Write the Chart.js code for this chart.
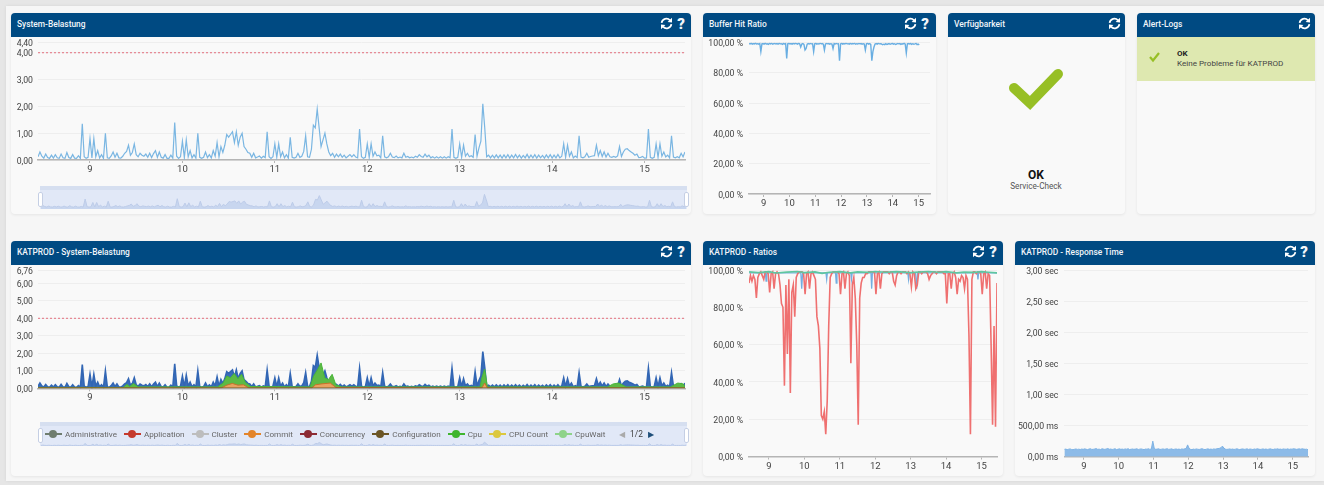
<!DOCTYPE html>
<html lang="de">
<head>
<meta charset="utf-8">
<title>KATPROD Dashboard</title>
<script src="https://cdn.jsdelivr.net/npm/chart.js@4"></script>
<style>
  html, body { margin: 0; padding: 0; }
  body { width: 1324px; height: 485px; overflow: hidden; position: relative; background: #e6e6e6; font-family: Roboto, sans-serif; }
  .page { position: absolute; left: 6px; top: 6px; width: 1318px; height: 475px; background: #f6f6f6; box-shadow: 0 0 3px rgba(0,0,0,.08); }
  .panel { position: absolute; background: #f9f9f9; border-radius: 4px; box-shadow: 0 1px 3px rgba(0,0,0,.07); }
  .head { position: absolute; left: 0; right: 0; top: 0; height: 24px; background: #004a82; border-radius: 4px 4px 0 0; color: #f2f6fa; font-size: 8.4px; font-weight: 500; line-height: 22px; padding-left: 6px; }
  .ico { position: absolute; top: 4px; width: 13px; height: 13px; }
  .qm { position: absolute; top: 0; width: 12px; text-align: center; font-size: 15px; line-height: 22px; font-weight: 900; }
  canvas { position: absolute; display: block; }
  .nav { position: absolute; background: #e1e8f7; border-top: 4px solid #d6dff0; box-sizing: border-box; }
  .grip { position: absolute; width: 3px; height: 13px; background: #fff; border: 1px solid #c5cfe4; border-radius: 2px; }
  .legend { position: absolute; left: 45px; top: 428px; height: 12px; display: flex; gap: 7px; align-items: center; font-size: 8.1px; color: #666; white-space: nowrap; }
  .legend i { display: inline-block; position: relative; width: 17px; height: 1.5px; margin-right: 3px; vertical-align: middle; }
  .legend i b { position: absolute; left: 4px; top: -3px; width: 8px; height: 8px; border-radius: 50%; background: inherit; }
  .legend span { display: flex; align-items: center; }
  .pager { position: absolute; left: 619px; top: 428px; height: 12px; font-size: 8.4px; line-height: 12px; color: #444; display: flex; gap: 5px; align-items: center; }
  .txt { position: absolute; white-space: nowrap; }
</style>
</head>
<body>
<div class="page"></div>

<svg width="0" height="0" style="position:absolute">
  <symbol id="refresh" viewBox="0 0 13 13">
    <path d="M1.6 5.8A4.8 4.8 0 0 1 10 3.4" fill="none" stroke="#fff" stroke-width="1.7"/>
    <polygon points="12,0.8 12,5.4 7.6,5" fill="#fff"/>
    <path d="M11.4 7.2A4.8 4.8 0 0 1 3 9.6" fill="none" stroke="#fff" stroke-width="1.7"/>
    <polygon points="1,12.2 1,7.6 5.4,8" fill="#fff"/>
  </symbol>
</svg>

<div class="panel" style="left:11px;top:13px;width:680px;height:201px">
  <div class="head">System-Belastung<svg class="ico" style="left:649px"><use href="#refresh"/></svg><span class="qm" style="left:664px">?</span></div>
</div>
<div class="panel" style="left:703px;top:13px;width:233px;height:201px">
  <div class="head">Buffer Hit Ratio<svg class="ico" style="left:201px"><use href="#refresh"/></svg><span class="qm" style="left:216px">?</span></div>
</div>
<div class="panel" style="left:948px;top:13px;width:177px;height:201px">
  <div class="head">Verfügbarkeit<svg class="ico" style="left:160px"><use href="#refresh"/></svg></div>
</div>
<div class="panel" style="left:1137px;top:13px;width:178px;height:201px">
  <div class="head">Alert-Logs<svg class="ico" style="left:161px"><use href="#refresh"/></svg></div>
  <div style="position:absolute;left:0;right:0;top:24px;height:44px;background:#dee8b0"></div>
</div>
<div class="panel" style="left:11px;top:241px;width:680px;height:235px">
  <div class="head">KATPROD - System-Belastung<svg class="ico" style="left:649px"><use href="#refresh"/></svg><span class="qm" style="left:664px">?</span></div>
</div>
<div class="panel" style="left:703px;top:241px;width:300px;height:235px">
  <div class="head">KATPROD - Ratios<svg class="ico" style="left:269px"><use href="#refresh"/></svg><span class="qm" style="left:284px">?</span></div>
</div>
<div class="panel" style="left:1015px;top:241px;width:300px;height:235px">
  <div class="head">KATPROD - Response Time<svg class="ico" style="left:269px"><use href="#refresh"/></svg><span class="qm" style="left:283px">?</span></div>
</div>

<svg style="position:absolute;left:0;top:0" width="1324" height="485">
  <polyline points="1014,88 1030,103 1058,74" fill="none" stroke="#97bf25" stroke-width="10" stroke-linecap="round"/>
  <polyline points="1150,57 1153,60.5 1159,53" fill="none" stroke="#97bf25" stroke-width="2.2"/>
</svg>
<div class="txt" style="left:1006px;width:60px;text-align:center;top:168px;font-size:12px;font-weight:700;color:#111">OK</div>
<div class="txt" style="left:996px;width:80px;text-align:center;top:181px;font-size:8.2px;color:#555">Service-Check</div>
<div class="txt" style="left:1177px;top:49px;font-size:8px;font-weight:700;color:#222">OK</div>
<div class="txt" style="left:1177px;top:58px;font-size:8.1px;color:#444">Keine Probleme für KATPROD</div>

<div class="nav" style="left:40px;top:186px;width:647px;height:23px"></div>
<div class="nav" style="left:40px;top:422px;width:647px;height:24px"></div>

<canvas id="sysChart"></canvas>
<canvas id="sysNav"></canvas>
<canvas id="bufferChart"></canvas>
<canvas id="katChart"></canvas>
<canvas id="katNav"></canvas>
<canvas id="ratioChart"></canvas>
<canvas id="respChart"></canvas>

<div class="grip" style="left:38px;top:192px"></div>
<div class="grip" style="left:684px;top:192px"></div>
<div class="grip" style="left:38px;top:428px"></div>
<div class="grip" style="left:684px;top:428px"></div>
<div class="legend" id="legend"></div>
<div class="pager"><span style="color:#aaa">&#9664;</span><span>1/2</span><span style="color:#1f4f7a">&#9654;</span></div>

<script>
const startDay = 8.4375;
const endDay = 15.4375;
const dayTicks = [9, 10, 11, 12, 13, 14, 15];

// tick labels of the value axes
const sysTicks = [0, 1, 2, 3, 4, 4.4];
const katTicks = [0, 1, 2, 3, 4, 5, 6, 6.76];
const pctTicks = [0, 20, 40, 60, 80, 100];
const respTicks = [0, 500, 1000, 1500, 2000, 2500, 3000];
const limitLoad = 4;

// load, one reading every 30 minutes
const sysLoad = [
  .12,.30,.14,.07,.22,.09,.06,.18,.07,.20,.08,.06,.22,.08,.06,.28,.09,.06,.20,.07,.06,.16,.06,1.35,.12,.06,.10,.80,.08,.80,
  .12,.35,.08,.20,.06,1.00,.08,.06,.15,.30,.10,.25,.08,.07,.14,.25,.32,.55,.18,.28,.60,.20,.12,.25,.18,.14,.22,.10,.25,.09,
  .24,.35,.10,.30,.10,.07,.20,.06,.06,.18,.07,1.40,.14,.06,.12,.70,.09,.75,.12,.35,.08,.20,.07,1.00,.10,.06,.10,.30,.09,.20,
  .08,.35,.14,.65,.12,.50,.28,.55,.95,.85,.95,1.05,.65,1.05,.55,.85,1.00,.50,.40,.28,.25,.10,.25,.08,.11,.15,.07,.14,.09,1.05,
  .12,.06,.12,.60,.10,.60,.12,.30,.08,.20,.07,.85,.10,.07,.10,.25,.10,.14,.32,.90,.12,.10,.40,1.30,1.20,1.90,1.20,.50,.75,1.00,
  .60,.30,.16,.25,.10,.22,.12,.22,.10,.18,.08,.14,.20,.12,.20,.11,.08,1.15,.12,.06,.10,.60,.10,.60,.14,.30,.16,.18,.08,.90,
  .12,.08,.12,.25,.11,.09,.15,.08,.11,.08,.25,.10,.13,.08,.11,.08,.14,.10,.20,.13,.10,.22,.12,.18,.08,.12,.07,.12,.07,.12,
  .07,.12,.07,.12,.08,1.15,.10,.06,.10,.60,.10,.55,.14,.25,.12,.16,.10,.95,.14,.45,.70,2.10,1.20,.12,.18,.08,.18,.08,.19,.08,
  .18,.07,.19,.08,.20,.07,.18,.08,.21,.08,.18,.07,.17,.08,.21,.07,.18,.08,.20,.07,.18,.08,.17,.07,.19,.08,.20,.07,.18,.08,
  .21,.08,.14,.60,.10,.55,.14,.30,.08,.15,.09,.90,.11,.08,.12,.25,.10,.13,.15,.16,.55,.16,.35,.13,.30,.11,.25,.12,.10,.13,
  .10,.15,.50,.13,.30,.40,.42,.35,.30,.25,.18,.22,.09,.10,.13,.07,.08,1.15,.10,.06,.10,.60,.10,.60,.14,.30,.11,.18,.08,.90,
  .11,.08,.12,.08,.25,.12,.30,.40,.70,.28,.50,.22,.08
];

// top edge of the Cpu band and the Commit band, read at the visible bends
const cpuDays = [8.44,9.36,9.40,9.43,9.47,9.52,10.38,10.44,10.48,10.52,10.56,10.60,10.64,10.68,10.74,11.38,11.42,11.46,11.50,11.54,11.58,11.62,11.66,11.72,13.22,13.24,13.27,13.30,14.60,14.66,14.72,14.80,15.28,15.36,15.42,15.44];
const cpuTop = [.05,.05,.22,.10,.28,.08,.08,.30,.70,.60,.85,.55,.80,.35,.10,.08,.70,1.05,1.45,.60,.50,.80,.20,.08,.08,.60,1.10,.08,.08,.25,.30,.08,.08,.30,.25,.05];
const commitDays = [8.44,10.42,10.48,10.54,10.60,10.66,10.72,11.40,11.44,11.50,11.60,11.66,13.24,13.27,13.30,15.44];
const commitTop = [.02,.02,.18,.28,.18,.20,.02,.02,.20,.25,.30,.05,.02,.30,.02,.02];
const configDays = [8.44,15.44];
const configTop = [.015,.015];

// buffer hit ratio in percent, one reading per hour
const bufferHit = [
  99.4,99.0,99.5,98.9,99.3,99.1,99.6,99.0,99.2,98.9,99.4,94.0,99.1,99.3,98.9,99.5,99.0,99.2,98.8,99.4,
  99.1,99.5,98.9,99.2,99.4,99.0,99.3,98.9,99.5,99.1,99.2,98.8,99.4,99.0,99.3,89.5,99.2,99.5,99.0,99.3,
  98.9,99.4,99.1,99.5,99.2,98.9,99.4,99.1,97.0,99.0,99.3,98.8,95.0,96.0,98.9,99.3,99.0,99.4,99.1,99.2,
  94.0,99.1,99.4,98.9,99.2,99.0,99.5,99.1,99.3,98.9,95.0,99.0,99.4,99.1,99.3,98.9,99.2,99.0,96.0,99.3,
  99.0,99.4,99.1,99.2,88.0,99.1,99.4,98.9,99.3,99.0,99.5,99.1,99.2,98.9,99.4,99.0,99.3,99.1,99.5,98.9,
  99.2,99.0,99.4,99.1,99.3,98.9,99.2,99.0,95.0,99.1,99.4,98.9,99.3,98.8,88.0,94.0,97.0,99.0,99.3,98.9,
  99.4,99.1,99.2,99.0,98.5,98.9,98.6,99.2,98.7,99.0,99.3,98.8,99.1,99.4,98.9,99.2,98.7,99.0,99.4,99.1,
  99.3,98.8,99.2,99.0,99.5,98.9,93.0,99.1,99.3,99.0,99.4,98.8,99.2,98.9,99.1,99.4,98.6,99.0,98.4
];

// ratios in percent: hourly red series, the other two read at visible bends
const ratioRed = [
  93,97,94,97,95,85,96,98,99,97,
  95,99,99,98,88,98,99,90,98,99,
  98,92,82,80,38,92,55,95,34,88,
  92,75,96,98,99,99,99,98,87,98,
  99,90,98,99,97,95,75,70,58,22,
  20,24,12,30,70,96,98,99,99,99,
  99,98,87,98,99,90,98,99,97,50,
  92,96,85,60,17,85,93,96,96,98,
  98,99,99,99,99,99,87,98,99,90,
  98,99,99,99,99,98,99,99,94,92,
  97,99,99,98,99,99,99,98,99,98,
  91,99,98,90,92,99,99,98,99,99,
  99,98,95,97,98,99,99,98,99,99,
  99,99,98,98,82,98,98,90,98,99,
  96,87,95,94,97,96,90,97,95,65,
  12,95,99,99,98,99,99,98,87,98,
  99,90,98,97,60,17,70,16,93
];
const ratioBlueDays = [8.44,8.90,8.92,8.94,9.90,9.925,9.95,10.61,10.63,10.65,10.88,10.90,10.92,11.31,11.33,11.35,11.88,11.90,11.92,12.92,12.94,12.96,13.14,13.17,13.20,14.88,14.90,14.92,15.44];
const ratioBlue = [98.5,98.5,94,98.5,98.5,90,98.5,98.5,95,98.5,98.5,93,98.5,98.5,95,98.5,98.5,90,98.5,98.5,95,98.5,98.5,90,98.5,98.5,95,98.5,98.5];
const ratioGreenDays = [8.44,8.7,9.0,9.2,9.5,9.8,10.0,10.3,10.5,10.7,11.0,11.3,11.5,11.8,12.0,12.3,12.6,13.0,13.2,13.5,13.8,14.0,14.3,14.5,14.8,15.0,15.2,15.44];
const ratioGreen = [99,98.6,99.1,98.4,98.9,99.2,98.6,99,98.2,98.8,99.1,98.5,99,98.7,99.2,98.8,99.1,98.6,98.9,99.2,98.8,99.1,98.5,98.9,98.7,99.1,98.8,98.5];

// response time in ms, one reading per hour
const respTime = [
  118,122,114,120,125,116,112,119,124,117,121,115,123,118,126,120,114,122,128,116,
  119,124,130,118,121,115,127,122,117,125,132,119,123,116,121,128,114,120,126,118,
  122,117,125,120,129,115,119,124,118,122,127,116,121,125,119,114,123,120,128,117,
  124,250,135,118,122,127,116,120,125,119,123,128,117,121,126,115,120,124,118,122,
  116,125,120,127,130,190,135,118,114,122,117,125,120,116,123,128,119,114,121,126,
  118,122,117,125,120,127,130,135,145,170,140,122,117,120,125,118,123,116,121,127,
  119,114,122,125,118,121,126,117,123,120,115,124,119,127,122,116,120,125,118,123,
  117,121,126,119,115,124,120,127,118,122,116,125,121,119,126,117,123,120,128,124,
  118,122,126,120,127,123,118,121,112
];

const legendNames = ['Administrative', 'Application', 'Cluster', 'Commit', 'Concurrency', 'Configuration', 'Cpu', 'CPU Count', 'CpuWait'];
const legendColors = ['#6f7d6f', '#c53a2d', '#bdbdbd', '#e3842a', '#8c2a33', '#6b5526', '#3fb52e', '#dcc83f', '#8ed38a'];

document.getElementById('legend').innerHTML = legendNames.map((name, i) =>
  '<span><i style="background:' + legendColors[i] + '"><b></b></i>' + name + '</span>').join('');

const numLabel = (v) => v.toFixed(2).replace('.', ',');
const everyStep = (values, hours) => values.map((y, i) => ({ x: startDay + (i * hours) / 24, y }));
const zipDays = (days, values) => days.map((x, i) => ({ x, y: values[i] }));

const limitLine = {
  data: [{ x: startDay, y: limitLoad }, { x: endDay, y: limitLoad }],
  borderColor: '#e4707f',
  borderWidth: 1,
  borderDash: [2, 2],
};

// the scales may not claim room for half a label, the plot rectangle is fixed
const noScalePadding = (s) => {
  s.paddingTop = 0;
  s.paddingBottom = 0;
  s.paddingLeft = 0;
  s.paddingRight = 0;
};

// box = plot rectangle on the page, axis = room for the value labels
function drawChart(id, box, yTicks, yLabel, datasets, labelPad) {
  const padTop = 8;
  const padRight = 6;
  const xHeight = 22;
  const cv = document.getElementById(id);
  const left = Math.floor(box.left - box.axis);
  const top = Math.floor(box.top - padTop);
  const width = Math.ceil(box.right - left + padRight);
  const height = Math.ceil(box.bottom - top + xHeight);
  cv.width = width;
  cv.height = height;
  cv.style.left = left + 'px';
  cv.style.top = top + 'px';

  new Chart(cv.getContext('2d'), {
    type: 'line',
    data: { datasets },
    options: {
      responsive: false,
      animation: false,
      parsing: false,
      normalized: true,
      layout: { autoPadding: false, padding: { top: box.top - top, right: width - (box.right - left), left: 0, bottom: height - (box.bottom - top) - xHeight } },
      elements: { point: { radius: 0 }, line: { tension: 0 } },
      plugins: { legend: { display: false }, tooltip: { enabled: false } },
      scales: {
        x: {
          type: 'linear',
          min: startDay,
          max: endDay,
          afterBuildTicks: (s) => { s.ticks = dayTicks.map((value) => ({ value })); },
          afterFit: (s) => { s.height = xHeight; noScalePadding(s); },
          ticks: { autoSkip: false, maxRotation: 0, padding: 1, color: '#444', font: { family: 'Roboto', size: 9.5 }, callback: (v) => String(v) },
          grid: { drawOnChartArea: false, tickLength: 3, color: '#b5b5b5' },
          border: { color: '#b5b5b5', width: 1.5 },
        },
        y: {
          min: 0,
          max: yTicks[yTicks.length - 1],
          afterBuildTicks: (s) => { s.ticks = yTicks.map((value) => ({ value })); },
          afterFit: (s) => { s.width = box.left - left; noScalePadding(s); },
          ticks: { autoSkip: false, padding: labelPad, labelOffset: 1.5, color: '#444', font: { family: 'Roboto', size: 8.7 }, callback: yLabel },
          grid: { drawTicks: false, color: '#eeeeee' },
          border: { display: false },
        },
      },
    },
  });
}

function drawNav(id, left, top, width, height, values, yMax) {
  const cv = document.getElementById(id);
  cv.width = width;
  cv.height = height;
  cv.style.left = left + 'px';
  cv.style.top = top + 'px';
  new Chart(cv.getContext('2d'), {
    type: 'line',
    data: { datasets: [{ data: everyStep(values, 0.5), borderColor: '#bccbe8', borderWidth: 1, backgroundColor: 'rgba(175,195,232,.5)', fill: 'start' }] },
    options: {
      responsive: false,
      animation: false,
      parsing: false,
      layout: { autoPadding: false, padding: 0 },
      elements: { point: { radius: 0 } },
      plugins: { legend: { display: false }, tooltip: { enabled: false } },
      scales: {
        x: { type: 'linear', display: false, min: startDay, max: endDay },
        y: { display: false, min: -0.25, max: yMax },
      },
    },
  });
}

drawChart('sysChart', { left: 38, right: 685, top: 42, bottom: 160, axis: 28 }, sysTicks, numLabel, [
  limitLine,
  { data: everyStep(sysLoad, 0.5), borderColor: '#7ab6e2', borderWidth: 1.2 },
], 5);
drawNav('sysNav', 41, 190, 645, 19, sysLoad, 2.8);

drawChart('bufferChart', { left: 749, right: 930, top: 42.5, bottom: 194, axis: 44 }, pctTicks, (v) => numLabel(v) + ' %', [
  { data: everyStep(bufferHit, 1), borderColor: '#69aee2', borderWidth: 1.4 },
], 6);

drawChart('katChart', { left: 38, right: 685, top: 270, bottom: 388.3, axis: 28 }, katTicks, numLabel, [
  limitLine,
  { data: zipDays(configDays, configTop), borderColor: '#6b5526', borderWidth: 1 },
  { data: zipDays(commitDays, commitTop), borderColor: '#c9702a', borderWidth: 1, backgroundColor: '#e8a25e', fill: 'origin' },
  { data: zipDays(cpuDays, cpuTop), borderColor: '#49b53a', borderWidth: 1, backgroundColor: '#5cba45', fill: 'origin' },
  { data: everyStep(sysLoad, 0.5), borderColor: '#3266b4', borderWidth: 1.6, backgroundColor: '#3a6cb8', fill: 'origin' },
], 5);
drawNav('katNav', 41, 426, 645, 20, sysLoad, 12);

drawChart('ratioChart', { left: 749, right: 997, top: 270, bottom: 456.5, axis: 44 }, pctTicks, (v) => numLabel(v) + ' %', [
  { data: zipDays(ratioGreenDays, ratioGreen), borderColor: '#5fc6a0', borderWidth: 1.7 },
  { data: everyStep(ratioRed, 1), borderColor: '#ef7070', borderWidth: 1.6 },
  { data: zipDays(ratioBlueDays, ratioBlue), borderColor: '#74aee0', borderWidth: 1.3 },
], 6);

drawChart('respChart', { left: 1064.3, right: 1308, top: 270, bottom: 456.7, axis: 48 }, respTicks,
  (v) => (v < 1000 ? numLabel(v) + ' ms' : numLabel(v / 1000) + ' sec'), [
    { data: everyStep(respTime, 1), borderColor: '#7db2e4', borderWidth: 1, backgroundColor: '#8dbbe8', fill: 'origin' },
  ], 6);
</script>
</body>
</html>
